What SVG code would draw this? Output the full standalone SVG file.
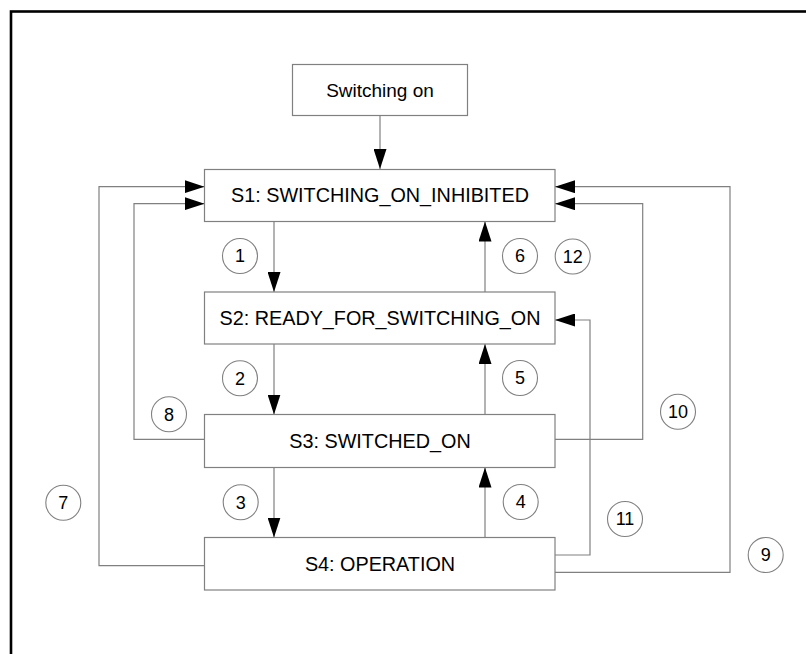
<svg xmlns="http://www.w3.org/2000/svg" width="806" height="654" viewBox="0 0 806 654">
<defs>
<marker id="ah" markerUnits="userSpaceOnUse" markerWidth="20" markerHeight="13" refX="20" refY="6.5" orient="auto">
<path d="M0,0 L20,6.5 L0,13 z" fill="#000"/>
</marker>
<style>
.box{fill:#fff;stroke:#808080;stroke-width:1.2}
.lbl{font-family:"Liberation Sans",Arial,sans-serif;font-size:19.8px;fill:#000;text-anchor:middle}
.c{fill:#fff;stroke:#808080;stroke-width:1.1}
.n{font-family:"Liberation Sans",Arial,sans-serif;font-size:18px;fill:#000;text-anchor:middle}
.ln{fill:none;stroke:#808080;stroke-width:1.2}
.ar{marker-end:url(#ah)}
</style>
</defs>
<rect width="806" height="654" fill="#fff"/>
<rect x="11" y="11.5" width="820" height="680" fill="none" stroke="#000" stroke-width="2.6"/>
<g id="connectors">
<path class="ln ar" d="M380,116 V169"/>
<path class="ln ar" d="M274,221.5 V292"/>
<path class="ln ar" d="M485,292 V221.5"/>
<path class="ln ar" d="M274,344 V414.5"/>
<path class="ln ar" d="M485,414.5 V344"/>
<path class="ln ar" d="M274,467.5 V537.5"/>
<path class="ln ar" d="M485,537.5 V467.5"/>
<path class="ln ar" d="M204.5,565.7 H99 V186.7 H204.5"/>
<path class="ln ar" d="M204.5,439.3 H134 V203.7 H204.5"/>
<path class="ln ar" d="M555,439.3 H642.7 V203.7 H555"/>
<path class="ln ar" d="M555,572.3 H730 V186.7 H555"/>
<path class="ln ar" d="M555,555 H590 V320 H555"/>
</g>
<g id="switching_on">
<rect class="box" x="292.5" y="64.5" width="175" height="51"/>
<text class="lbl" x="380" y="96.5" style="font-size:19px">Switching on</text>
</g>
<g id="s1">
<rect class="box" x="204.5" y="169.5" width="350.5" height="52"/>
<text class="lbl" x="380" y="202.3">S1: SWITCHING_ON_INHIBITED</text>
</g>
<g id="s2">
<rect class="box" x="204.5" y="292" width="350.5" height="52"/>
<text class="lbl" x="380" y="325">S2: READY_FOR_SWITCHING_ON</text>
</g>
<g id="s3">
<rect class="box" x="204.5" y="414.5" width="350.5" height="53"/>
<text class="lbl" x="380" y="448">S3: SWITCHED_ON</text>
</g>
<g id="s4">
<rect class="box" x="204.5" y="537.5" width="350.5" height="52.5"/>
<text class="lbl" x="380" y="570.7">S4: OPERATION</text>
</g>
<g id="t1"><circle class="c" cx="240" cy="256" r="17.5"/><text class="n" x="240" y="262.4">1</text></g>
<g id="t6"><circle class="c" cx="520" cy="256" r="17.5"/><text class="n" x="520" y="262.4">6</text></g>
<g id="t12"><circle class="c" cx="572.7" cy="256.5" r="17.5"/><text class="n" x="572.7" y="262.9">12</text></g>
<g id="t2"><circle class="c" cx="240" cy="378.3" r="17.5"/><text class="n" x="240" y="384.7">2</text></g>
<g id="t5"><circle class="c" cx="520" cy="378" r="17.5"/><text class="n" x="520" y="384.4">5</text></g>
<g id="t8"><circle class="c" cx="169" cy="414.3" r="17.5"/><text class="n" x="169" y="420.7">8</text></g>
<g id="t10"><circle class="c" cx="678" cy="411.7" r="17.5"/><text class="n" x="678" y="418.1">10</text></g>
<g id="t3"><circle class="c" cx="240.7" cy="502.3" r="17.5"/><text class="n" x="240.7" y="508.7">3</text></g>
<g id="t4"><circle class="c" cx="520.7" cy="502" r="17.5"/><text class="n" x="520.7" y="508.4">4</text></g>
<g id="t7"><circle class="c" cx="63.3" cy="502.7" r="17.5"/><text class="n" x="63.3" y="509.1">7</text></g>
<g id="t11"><circle class="c" cx="625" cy="519" r="17.5"/><text class="n" x="625" y="525.4">11</text></g>
<g id="t9"><circle class="c" cx="765.7" cy="555" r="17.5"/><text class="n" x="765.7" y="561.4">9</text></g>
</svg>
